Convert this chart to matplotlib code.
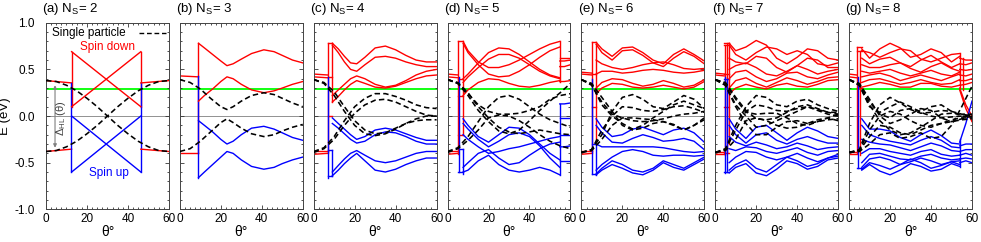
import matplotlib
matplotlib.use('Agg')
import matplotlib.pyplot as plt
from matplotlib.ticker import MultipleLocator

plt.rcParams['font.family'] = ['Liberation Sans', 'DejaVu Sans']
plt.rcParams['mathtext.default'] = 'regular'
plt.rcParams['axes.unicode_minus'] = False

RED, BLUE, GREEN = '#ff0000', '#0000ff', '#00ff00'

# ---------------- data ----------------
tags = ['a', 'b', 'c', 'd', 'e', 'f', 'g']
n_s = [2, 3, 4, 5, 6, 7, 8]
e_green = 0.29
sp_th = [0, 5, 10, 15, 20, 25, 30, 35, 40, 45, 50, 55, 60]

# (a) N_S = 2
a_black = [[0.38, 0.37, 0.33, 0.27, 0.19, 0.10, 0.0, -0.10, -0.19, -0.27, -0.33, -0.37, -0.38],
           [-0.38, -0.37, -0.33, -0.27, -0.19, -0.10, 0.0, 0.10, 0.19, 0.27, 0.33, 0.37, 0.38]]
a_t = [12.5, 12.5]
a_pre_red = [(0.38, 0.355), (-0.38, -0.355)]
a_steps_red, a_steps_blue = [], []
a_vred = [(12.5, 0.10, 0.69), (46.3, 0.10, 0.69)]
a_vblue = [(12.3, -0.60, 0.355), (46.5, -0.60, 0.355)]
a_th = [12.5, 46.3]
a_red = [[0.69, 0.10], [0.10, 0.69]]
a_blue = [[0.0, -0.60], [-0.60, 0.0]]
a_post_th = [46.3, 60]
a_post_red = [[0.355, 0.38], [-0.355, -0.38]]
a_post_blue = []

# (b) N_S = 3
b_sp_th = [0, 5, 10, 15, 20, 23, 26, 30, 35, 41, 46, 50, 55, 60]
b_black = [[0.39, 0.36, 0.29, 0.19, 0.10, 0.07, 0.10, 0.16, 0.22, 0.25, 0.23, 0.19, 0.14, 0.10],
           [-0.38, -0.35, -0.27, -0.17, -0.07, -0.03, -0.07, -0.13, -0.19, -0.22, -0.20, -0.16, -0.12, -0.09]]
b_t = [9.1, 9.1]
b_pre_red = [(0.43, 0.42), (-0.40, -0.40)]
b_steps_red, b_steps_blue = [], []
b_vred = [(9.1, -0.40, 0.78)]
b_vblue = [(9.1, -0.66, 0.43)]
b_th = [9.1, 12, 16, 20, 23, 26, 30, 35, 41, 46, 50, 55, 60]
b_red = [[0.78, 0.73, 0.66, 0.59, 0.54, 0.56, 0.61, 0.67, 0.71, 0.69, 0.65, 0.60, 0.57],
         [0.16, 0.22, 0.29, 0.37, 0.42, 0.40, 0.34, 0.28, 0.25, 0.27, 0.30, 0.34, 0.37]]
b_blue = [[-0.05, -0.10, -0.17, -0.25, -0.30, -0.27, -0.20, -0.13, -0.11, -0.14, -0.18, -0.23, -0.26],
          [-0.66, -0.60, -0.52, -0.44, -0.38, -0.40, -0.47, -0.54, -0.57, -0.55, -0.51, -0.47, -0.44]]

# (c) N_S = 4
c_black = [[0.39, 0.36, 0.26, 0.10, -0.05, -0.15, -0.19, -0.18, -0.13, -0.08, -0.05, -0.04, -0.04],
           [0.39, 0.35, 0.22, 0.05, -0.10, -0.19, -0.21, -0.19, -0.14, -0.08, -0.03, 0.0, 0.0],
           [-0.38, -0.34, -0.22, -0.05, 0.10, 0.19, 0.24, 0.24, 0.21, 0.17, 0.12, 0.09, 0.08],
           [-0.39, -0.35, -0.25, -0.10, 0.03, 0.12, 0.17, 0.18, 0.15, 0.10, 0.05, 0.01, 0.0]]
c_t = [6.8, 9.1]
c_pre_red = [(0.45, 0.44), (0.42, 0.41), (-0.38, -0.38), (-0.41, -0.40)]
c_steps_red = [0.78, 0.42, 0.0]
c_steps_blue = [-0.64, -0.36]
c_vred = [(6.8, -0.40, 0.78), (9.1, 0.15, 0.78)]
c_vblue = [(7.2, -0.66, 0.42), (9.1, -0.64, -0.36)]
c_th = [9.1, 12, 15, 18, 21, 25, 30, 35, 40, 45, 50, 55, 60]
c_red = [[0.78, 0.72, 0.64, 0.57, 0.56, 0.63, 0.73, 0.75, 0.71, 0.65, 0.60, 0.58, 0.58],
         [0.76, 0.68, 0.58, 0.50, 0.48, 0.55, 0.63, 0.64, 0.62, 0.58, 0.55, 0.53, 0.53],
         [0.22, 0.28, 0.34, 0.40, 0.43, 0.40, 0.34, 0.31, 0.33, 0.38, 0.44, 0.48, 0.50],
         [0.15, 0.21, 0.28, 0.34, 0.38, 0.35, 0.31, 0.30, 0.32, 0.36, 0.40, 0.43, 0.44]]
c_blue = [[-0.02, -0.08, -0.14, -0.20, -0.25, -0.22, -0.15, -0.13, -0.15, -0.19, -0.23, -0.26, -0.26],
          [-0.08, -0.13, -0.19, -0.25, -0.29, -0.27, -0.20, -0.17, -0.18, -0.22, -0.27, -0.30, -0.30],
          [-0.60, -0.53, -0.46, -0.40, -0.37, -0.42, -0.48, -0.50, -0.48, -0.44, -0.40, -0.38, -0.38],
          [-0.64, -0.58, -0.51, -0.45, -0.40, -0.48, -0.58, -0.60, -0.57, -0.52, -0.48, -0.45, -0.45]]

# (d) N_S = 5
d_black = [[0.39, 0.36, 0.25, 0.10, -0.02, -0.12, -0.17, -0.19, -0.17, -0.15, -0.17, -0.19, -0.20],
           [0.39, 0.35, 0.22, 0.06, -0.06, -0.16, -0.19, -0.15, -0.05, 0.06, 0.16, 0.25, 0.35],
           [0.39, 0.35, 0.24, 0.12, 0.05, 0.02, 0.02, 0.03, 0.06, 0.10, 0.18, 0.22, 0.24],
           [-0.38, -0.34, -0.22, -0.06, 0.10, 0.20, 0.22, 0.18, 0.10, 0.02, -0.04, -0.08, -0.12],
           [-0.39, -0.35, -0.26, -0.15, -0.02, 0.01, 0.0, -0.05, -0.12, -0.20, -0.27, -0.32, -0.35]]
d_t = [5.2, 7.6]
d_pre_red = [(0.45, 0.44), (0.42, 0.41), (-0.38, -0.38), (-0.41, -0.40)]
d_steps_red = [0.80, 0.40, 0.22, -0.20]
d_steps_blue = [-0.60, -0.35]
d_vred = [(5.2, -0.41, 0.80), (7.6, -0.20, 0.78), (54.8, 0.37, 0.80)]
d_vblue = [(5.5, -0.60, 0.42), (7.6, -0.62, -0.35), (54.8, -0.63, 0.13)]
d_th = [7.6, 10, 15, 20, 25, 30, 35, 40, 45, 50, 54.8]
d_red = [[0.80, 0.70, 0.58, 0.52, 0.52, 0.55, 0.60, 0.66, 0.72, 0.77, 0.80],
         [0.78, 0.68, 0.55, 0.45, 0.42, 0.43, 0.48, 0.55, 0.63, 0.70, 0.74],
         [0.40, 0.45, 0.57, 0.68, 0.73, 0.72, 0.66, 0.58, 0.50, 0.44, 0.41],
         [0.36, 0.42, 0.52, 0.61, 0.66, 0.66, 0.62, 0.55, 0.48, 0.43, 0.40],
         [0.22, 0.28, 0.36, 0.40, 0.39, 0.35, 0.32, 0.31, 0.33, 0.36, 0.38]]
d_blue = [[-0.03, -0.10, -0.22, -0.28, -0.20, -0.12, -0.13, -0.20, -0.30, -0.40, -0.47],
          [-0.08, -0.14, -0.25, -0.33, -0.27, -0.20, -0.18, -0.22, -0.32, -0.45, -0.55],
          [-0.20, -0.25, -0.33, -0.40, -0.38, -0.35, -0.33, -0.30, -0.27, -0.24, -0.22],
          [-0.55, -0.50, -0.40, -0.36, -0.45, -0.52, -0.50, -0.42, -0.35, -0.30, -0.28],
          [-0.60, -0.58, -0.48, -0.42, -0.52, -0.58, -0.60, -0.58, -0.55, -0.58, -0.63]]
d_post_th = [54.8, 57, 60]
d_post_red = [[0.62, 0.62, 0.62], [0.59, 0.59, 0.60], [0.53, 0.53, 0.55], [0.37, 0.37, 0.38]]
d_post_blue = [[0.13, 0.13, 0.14], [-0.02, -0.02, -0.02], [-0.20, -0.20, -0.20],
               [-0.33, -0.33, -0.32], [-0.48, -0.48, -0.48]]

# (e) N_S = 6
e_black = [[0.39, 0.34, 0.12, 0.0, -0.08, -0.14, -0.10, -0.02, 0.05, 0.12, 0.16, 0.12, 0.08],
           [0.39, 0.33, 0.15, 0.02, -0.02, -0.05, -0.06, -0.05, -0.03, 0.0, 0.02, 0.03, 0.05],
           [0.39, 0.35, 0.20, 0.05, -0.10, -0.15, -0.13, -0.08, -0.06, -0.10, -0.15, -0.10, -0.04],
           [-0.39, -0.36, -0.20, 0.05, 0.20, 0.23, 0.18, 0.10, 0.08, 0.15, 0.22, 0.18, 0.08],
           [-0.39, -0.36, -0.15, 0.0, 0.10, 0.09, 0.06, 0.05, 0.07, 0.10, 0.11, 0.08, 0.04],
           [-0.39, -0.37, -0.25, -0.10, -0.02, -0.02, -0.03, -0.04, -0.06, -0.09, -0.15, -0.10, -0.02]]
e_t = [5.2, 7.2]
e_pre_red = [(0.47, 0.46), (0.45, 0.44), (-0.38, -0.38), (-0.41, -0.40)]
e_steps_red = [0.79, 0.45, 0.10]
e_steps_blue = [-0.62, -0.30]
e_vred = [(5.2, -0.40, 0.79), (7.2, -0.30, 0.77)]
e_vblue = [(5.4, -0.62, 0.40), (7.2, -0.63, -0.30)]
e_th = [7.2, 10, 15, 20, 25, 30, 35, 40, 45, 50, 55, 60]
e_red = [[0.79, 0.72, 0.64, 0.73, 0.74, 0.68, 0.60, 0.56, 0.66, 0.72, 0.66, 0.59],
         [0.77, 0.68, 0.60, 0.70, 0.71, 0.65, 0.57, 0.53, 0.62, 0.69, 0.64, 0.56],
         [0.60, 0.56, 0.52, 0.50, 0.52, 0.55, 0.57, 0.58, 0.55, 0.51, 0.50, 0.51],
         [0.45, 0.48, 0.48, 0.46, 0.47, 0.49, 0.50, 0.49, 0.47, 0.46, 0.47, 0.49],
         [0.30, 0.36, 0.40, 0.39, 0.35, 0.32, 0.34, 0.38, 0.35, 0.31, 0.33, 0.39],
         [0.24, 0.30, 0.35, 0.34, 0.31, 0.30, 0.31, 0.33, 0.31, 0.29, 0.31, 0.37]]
e_blue = [[-0.03, -0.12, -0.22, -0.20, -0.14, -0.12, -0.16, -0.20, -0.15, -0.13, -0.18, -0.28],
          [-0.10, -0.18, -0.28, -0.29, -0.24, -0.20, -0.23, -0.27, -0.26, -0.24, -0.27, -0.36],
          [-0.30, -0.33, -0.33, -0.33, -0.33, -0.33, -0.33, -0.34, -0.36, -0.38, -0.39, -0.38],
          [-0.58, -0.52, -0.44, -0.38, -0.36, -0.38, -0.42, -0.43, -0.42, -0.42, -0.43, -0.42],
          [-0.62, -0.56, -0.48, -0.52, -0.58, -0.60, -0.56, -0.48, -0.52, -0.56, -0.50, -0.44],
          [-0.63, -0.58, -0.52, -0.56, -0.61, -0.63, -0.58, -0.50, -0.55, -0.58, -0.52, -0.46]]

# (f) N_S = 7
f_black = [[0.39, 0.33, 0.10, -0.08, -0.20, -0.20, -0.12, -0.06, -0.05, -0.08, -0.06, -0.04, -0.03],
           [0.39, 0.33, 0.12, 0.0, -0.12, -0.10, -0.05, 0.0, 0.05, 0.10, 0.06, 0.02, 0.0],
           [0.39, 0.35, 0.18, 0.04, 0.02, 0.03, 0.03, -0.02, -0.08, -0.10, -0.06, -0.02, 0.02],
           [0.39, 0.36, 0.20, 0.06, -0.03, -0.04, -0.02, 0.04, 0.10, 0.12, 0.08, 0.04, 0.04],
           [-0.39, -0.35, -0.10, 0.10, 0.22, 0.20, 0.12, 0.10, 0.16, 0.18, 0.12, 0.08, 0.05],
           [-0.39, -0.36, -0.15, 0.05, 0.12, 0.10, 0.06, 0.05, 0.08, 0.10, 0.07, 0.04, 0.02],
           [-0.39, -0.37, -0.25, -0.05, -0.02, -0.05, -0.10, -0.13, -0.12, -0.08, -0.04, -0.02, -0.05]]
f_t = [4.4, 6.8]
f_pre_red = [(0.46, 0.45), (0.44, 0.43), (-0.39, -0.39), (-0.41, -0.41)]
f_steps_red = [0.78, 0.76, 0.45, 0.10, -0.40]
f_steps_blue = [-0.60, 0.40]
f_vred = [(4.6, -0.42, 0.76), (5.6, -0.40, 0.78), (6.6, -0.30, 0.78)]
f_vblue = [(4.8, -0.61, 0.42), (5.6, -0.60, 0.40)]
f_th = [6.8, 10, 15, 20, 25, 30, 35, 40, 45, 50, 55, 60]
f_red = [[0.78, 0.70, 0.74, 0.81, 0.76, 0.62, 0.56, 0.63, 0.72, 0.70, 0.62, 0.60],
         [0.76, 0.66, 0.60, 0.68, 0.74, 0.72, 0.66, 0.70, 0.66, 0.56, 0.54, 0.57],
         [0.62, 0.58, 0.56, 0.64, 0.62, 0.52, 0.47, 0.54, 0.62, 0.60, 0.52, 0.52],
         [0.50, 0.54, 0.57, 0.52, 0.45, 0.43, 0.48, 0.54, 0.50, 0.45, 0.48, 0.50],
         [0.40, 0.47, 0.49, 0.42, 0.37, 0.40, 0.46, 0.47, 0.42, 0.40, 0.44, 0.47],
         [0.30, 0.38, 0.41, 0.35, 0.31, 0.36, 0.41, 0.38, 0.34, 0.37, 0.41, 0.42],
         [0.24, 0.30, 0.34, 0.31, 0.29, 0.33, 0.35, 0.32, 0.31, 0.34, 0.38, 0.39]]
f_blue = [[-0.03, -0.14, -0.24, -0.12, -0.10, -0.18, -0.26, -0.18, -0.12, -0.16, -0.22, -0.24],
          [-0.10, -0.20, -0.29, -0.20, -0.18, -0.26, -0.30, -0.25, -0.22, -0.26, -0.29, -0.29],
          [-0.22, -0.28, -0.32, -0.28, -0.31, -0.35, -0.33, -0.29, -0.32, -0.36, -0.34, -0.33],
          [-0.35, -0.37, -0.33, -0.34, -0.38, -0.40, -0.37, -0.34, -0.39, -0.42, -0.38, -0.37],
          [-0.50, -0.44, -0.38, -0.39, -0.44, -0.47, -0.44, -0.40, -0.45, -0.49, -0.45, -0.41],
          [-0.58, -0.52, -0.47, -0.56, -0.60, -0.52, -0.44, -0.48, -0.54, -0.51, -0.45, -0.43],
          [-0.61, -0.55, -0.51, -0.61, -0.64, -0.57, -0.48, -0.51, -0.57, -0.54, -0.47, -0.45]]

# (g) N_S = 8
g_black = [[0.39, 0.33, 0.12, -0.05, -0.15, -0.20, -0.18, -0.12, -0.05, 0.02, 0.03, 0.02, 0.0],
           [0.39, 0.33, 0.10, 0.04, 0.10, 0.15, 0.10, 0.04, 0.0, -0.02, -0.01, 0.0, 0.01],
           [0.39, 0.34, 0.15, 0.02, -0.02, 0.06, 0.08, 0.05, 0.10, 0.12, 0.05, 0.0, -0.01],
           [0.39, 0.35, 0.18, 0.0, -0.08, -0.04, 0.02, 0.08, 0.06, -0.02, -0.06, -0.03, 0.0],
           [-0.39, -0.36, -0.08, 0.12, 0.20, 0.14, 0.07, 0.03, 0.04, 0.06, 0.05, 0.02, 0.02],
           [-0.39, -0.37, -0.15, 0.0, 0.05, 0.02, -0.05, -0.10, -0.12, -0.08, -0.04, -0.02, -0.02],
           [-0.39, -0.37, -0.22, -0.10, -0.12, -0.18, -0.20, -0.15, -0.10, -0.08, -0.06, -0.04, -0.03],
           [-0.39, -0.38, -0.30, -0.20, -0.18, -0.24, -0.22, -0.18, -0.24, -0.22, -0.10, 0.10, 0.32]]
g_t = [3.7, 6.2]
g_pre_red = [(0.45, 0.44), (0.42, 0.41), (-0.39, -0.39), (-0.41, -0.41)]
g_steps_red = [0.74, 0.70, 0.30]
g_steps_blue = [-0.56]
g_vred = [(3.9, -0.40, 0.74), (5.5, -0.42, 0.70), (54.0, 0.30, 0.68), (55.5, 0.28, 0.62)]
g_vblue = [(4.2, -0.56, 0.42), (54.0, -0.55, -0.25)]
g_th = [6.2, 10, 15, 20, 25, 30, 35, 40, 45, 50, 54]
g_red = [[0.72, 0.62, 0.72, 0.78, 0.73, 0.63, 0.66, 0.72, 0.68, 0.58, 0.64],
         [0.70, 0.68, 0.63, 0.68, 0.72, 0.70, 0.61, 0.58, 0.62, 0.66, 0.67],
         [0.62, 0.56, 0.61, 0.63, 0.57, 0.53, 0.60, 0.65, 0.58, 0.52, 0.56],
         [0.55, 0.52, 0.52, 0.55, 0.57, 0.51, 0.47, 0.53, 0.57, 0.51, 0.48],
         [0.48, 0.46, 0.48, 0.50, 0.46, 0.43, 0.46, 0.49, 0.45, 0.43, 0.47],
         [0.42, 0.44, 0.46, 0.43, 0.38, 0.41, 0.44, 0.41, 0.38, 0.42, 0.45],
         [0.36, 0.39, 0.40, 0.37, 0.34, 0.36, 0.39, 0.36, 0.34, 0.35, 0.39],
         [0.31, 0.33, 0.36, 0.34, 0.31, 0.31, 0.35, 0.35, 0.32, 0.31, 0.33]]
g_blue = [[-0.03, -0.14, -0.14, -0.16, -0.23, -0.27, -0.20, -0.15, -0.21, -0.29, -0.30],
          [-0.10, -0.20, -0.24, -0.27, -0.29, -0.31, -0.26, -0.22, -0.26, -0.33, -0.34],
          [-0.25, -0.28, -0.30, -0.31, -0.34, -0.37, -0.33, -0.29, -0.32, -0.37, -0.38],
          [-0.40, -0.35, -0.35, -0.38, -0.40, -0.42, -0.38, -0.36, -0.41, -0.43, -0.42],
          [-0.50, -0.41, -0.40, -0.43, -0.46, -0.47, -0.43, -0.41, -0.45, -0.47, -0.46],
          [-0.55, -0.46, -0.44, -0.47, -0.52, -0.49, -0.45, -0.48, -0.52, -0.49, -0.48],
          [-0.57, -0.50, -0.53, -0.57, -0.52, -0.46, -0.50, -0.56, -0.53, -0.49, -0.52],
          [-0.58, -0.52, -0.59, -0.63, -0.58, -0.51, -0.54, -0.59, -0.57, -0.51, -0.54]]
g_post_th = [54, 57, 60]
g_post_red = [[0.62, 0.60, 0.60], [0.56, 0.55, 0.57], [0.50, 0.49, 0.50], [0.44, 0.43, 0.45],
              [0.38, 0.38, 0.40], [0.33, 0.34, 0.36], [0.28, 0.08, -0.06], [0.30, 0.12, 0.0]]
g_post_blue = [[-0.28, -0.08, 0.16], [-0.32, -0.30, -0.30], [-0.38, -0.36, -0.36],
               [-0.42, -0.40, -0.42], [-0.46, -0.45, -0.46], [-0.50, -0.48, -0.50]]

# options table built from the lists above
panels = [
    dict(sp_th=sp_th, black=a_black, t=a_t, pre=a_pre_red, sr=a_steps_red, sb=a_steps_blue,
         vr=a_vred, vb=a_vblue, th=a_th, red=a_red, blue=a_blue,
         pth=a_post_th, pred=a_post_red, pblue=a_post_blue),
    dict(sp_th=b_sp_th, black=b_black, t=b_t, pre=b_pre_red, sr=b_steps_red, sb=b_steps_blue,
         vr=b_vred, vb=b_vblue, th=b_th, red=b_red, blue=b_blue),
    dict(sp_th=sp_th, black=c_black, t=c_t, pre=c_pre_red, sr=c_steps_red, sb=c_steps_blue,
         vr=c_vred, vb=c_vblue, th=c_th, red=c_red, blue=c_blue),
    dict(sp_th=sp_th, black=d_black, t=d_t, pre=d_pre_red, sr=d_steps_red, sb=d_steps_blue,
         vr=d_vred, vb=d_vblue, th=d_th, red=d_red, blue=d_blue,
         pth=d_post_th, pred=d_post_red, pblue=d_post_blue),
    dict(sp_th=sp_th, black=e_black, t=e_t, pre=e_pre_red, sr=e_steps_red, sb=e_steps_blue,
         vr=e_vred, vb=e_vblue, th=e_th, red=e_red, blue=e_blue),
    dict(sp_th=sp_th, black=f_black, t=f_t, pre=f_pre_red, sr=f_steps_red, sb=f_steps_blue,
         vr=f_vred, vb=f_vblue, th=f_th, red=f_red, blue=f_blue),
    dict(sp_th=sp_th, black=g_black, t=g_t, pre=g_pre_red, sr=g_steps_red, sb=g_steps_blue,
         vr=g_vred, vb=g_vblue, th=g_th, red=g_red, blue=g_blue,
         pth=g_post_th, pred=g_post_red, pblue=g_post_blue),
]

LW = 1.0
DASH = (3.4, 2.0)

fig, axes = plt.subplots(1, 7, figsize=(9.81, 2.42), dpi=100)
fig.subplots_adjust(left=0.0469, right=0.9908, top=0.906, bottom=0.135, wspace=0.089)

for i, (ax, p) in enumerate(zip(axes, panels)):
    ax.axhline(0, color='gray', lw=0.6, zorder=1)
    ax.axhline(e_green, color=GREEN, lw=1.3, zorder=1)

    t1, t2 = p['t']
    for e0, e1 in p['pre']:
        ax.plot([0, t1], [e0, e1], color=RED, lw=LW, zorder=2)
    for e in p['sr']:
        ax.plot([t1, t2], [e, e], color=RED, lw=LW, zorder=2)
    for e in p['sb']:
        ax.plot([t1, t2], [e, e], color=BLUE, lw=LW, zorder=2)
    for t, lo, hi in p['vr']:
        ax.plot([t, t], [lo, hi], color=RED, lw=LW, zorder=2)
    for t, lo, hi in p['vb']:
        ax.plot([t, t], [lo, hi], color=BLUE, lw=LW, zorder=2)
    for ys in p['red']:
        ax.plot(p['th'], ys, color=RED, lw=LW, zorder=2)
    for ys in p['blue']:
        ax.plot(p['th'], ys, color=BLUE, lw=LW, zorder=2)
    if 'pth' in p:
        for ys in p['pred']:
            ax.plot(p['pth'], ys, color=RED, lw=LW, zorder=2)
        for ys in p['pblue']:
            ax.plot(p['pth'], ys, color=BLUE, lw=LW, zorder=2)
    for ys in p['black']:
        ax.plot(p['sp_th'], ys, color='black', lw=1.15, dashes=DASH, zorder=3)

    ax.set_xlim(0, 60)
    ax.set_ylim(-1, 1)
    ax.xaxis.set_major_locator(MultipleLocator(20))
    ax.xaxis.set_minor_locator(MultipleLocator(2.5))
    ax.yaxis.set_major_locator(MultipleLocator(0.5))
    ax.yaxis.set_minor_locator(MultipleLocator(0.1))
    ax.tick_params(which='both', direction='in', top=True, right=True, width=0.6,
                   labelsize=8.5, colors='#333333', labelcolor='black')
    ax.tick_params(which='major', length=3.0)
    ax.tick_params(which='minor', length=1.5)
    ax.tick_params(axis='x', pad=3)
    ax.tick_params(axis='y', pad=8)
    for s in ax.spines.values():
        s.set_linewidth(0.7)
        s.set_color('#444444')
    if i > 0:
        ax.set_yticklabels([])
    else:
        ax.yaxis.set_major_formatter(plt.FormatStrFormatter('%.1f'))

    ax.text(-0.03, 1.055, '(%s) N$_{S}$= %d' % (tags[i], n_s[i]), transform=ax.transAxes,
            ha='left', va='baseline', fontsize=9.5)
    ax.text(0.5, -0.12, 'θ°', transform=ax.transAxes, ha='center', va='center', fontsize=10)

ax = axes[0]
ax.text(-0.335, 0.5, 'E (eV)', transform=ax.transAxes, rotation=90,
        ha='center', va='center', fontsize=9.5)
ax.text(2.8, 0.885, 'Single particle', ha='left', va='center', fontsize=8.5)
ax.plot([45.5, 58.5], [0.89, 0.89], color='black', lw=1.0, dashes=DASH)
ax.text(30, 0.74, 'Spin down', color=RED, ha='center', va='center', fontsize=8.5)
ax.text(30.5, -0.61, 'Spin up', color=BLUE, ha='center', va='center', fontsize=8.5)
ax.annotate('', xy=(4.4, 0.36), xytext=(4.4, -0.37),
            arrowprops=dict(arrowstyle='<|-|>', color='gray', lw=0.8, mutation_scale=5))
ax.text(7.4, -0.02, r'$\Delta_{HL}$ (θ)', rotation=90, ha='center', va='center',
        fontsize=8, color='#444444')

fig.savefig('out.png', dpi=100)
